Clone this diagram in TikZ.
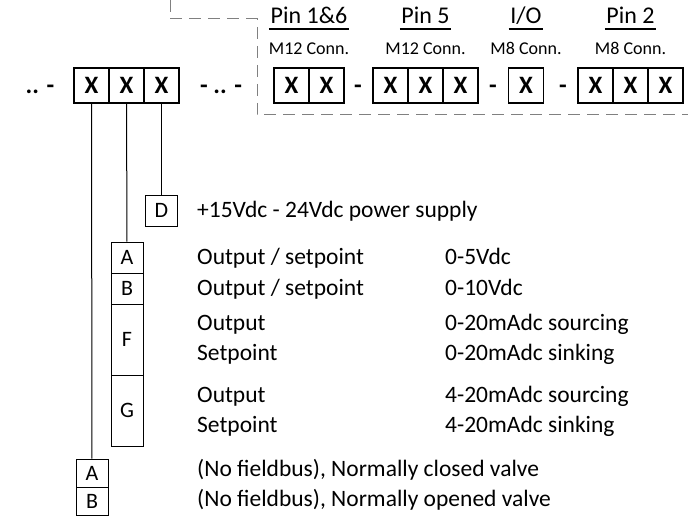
\documentclass[tikz,border=0pt]{standalone}
\usepackage{fontspec}
\setmainfont{Carlito}
\usetikzlibrary{positioning}
\begin{document}
\begin{tikzpicture}[x=1pt,y=-1pt,
  every node/.style={inner sep=0pt},
  cell/.style={draw, line width=1.2pt, minimum width=35pt, minimum height=35pt, font=\fontsize{25}{25}\selectfont\bfseries},
  sep/.style={anchor=base, font=\fontsize{25}{25}\selectfont\bfseries},
  code/.style={draw, line width=1pt, minimum width=32pt, font=\fontsize{22}{22}\selectfont},
  pin/.style={anchor=base, font=\fontsize{24}{24}\selectfont},
  conn/.style={anchor=base, font=\fontsize{18}{18}\selectfont},
  txt/.style={anchor=base west, font=\fontsize{23.5}{23.5}\selectfont},
  wire/.style={line width=1pt},
  uline/.style={line width=1.2pt}]
\useasboundingbox (0,0) rectangle (688,524);
% connector frame
\draw[dashed, dash pattern=on 12pt off 7pt, gray, line width=1pt] (170,0) -- (170,19) -- (257,19) -- (257,115) -- (688,115);
% main code
\node[sep] (dots1) at (40,94) {.. -};
\node[cell] (m1) at (91.5,85.5) {X};
\node[cell] (m2) at (126.5,85.5) {X};
\node[cell] (m3) at (161.5,85.5) {X};
\node[sep] (dots2) at (221,94) {- .. -};
% connector pins
\node[cell] (a1) at (291.5,85.5) {X};
\node[cell] (a2) at (326.5,85.5) {X};
\node[sep] (s1) at (358,94) {-};
\node[cell] (b1) at (390.5,85.5) {X};
\node[cell] (b2) at (425.5,85.5) {X};
\node[cell] (b3) at (460.5,85.5) {X};
\node[sep] (s2) at (493,94) {-};
\node[cell] (c1) at (526,85.5) {X};
\node[sep] (s3) at (563,94) {-};
\node[cell] (d1) at (595.5,85.5) {X};
\node[cell] (d2) at (630.5,85.5) {X};
\node[cell] (d3) at (665.5,85.5) {X};
% pin labels
\node[pin] (pa) at (309,23.5) {Pin 1\&6};
\node[pin] (pb) at (425.5,23.5) {Pin 5};
\node[pin] (pc) at (526,23.5) {I/O};
\node[pin] (pd) at (630.5,23.5) {Pin 2};
\foreach \p in {pa,pb,pc,pd}
  \draw[uline] ([shift={(-1.5pt,-5.5pt)}]\p.base west) -- ([shift={(1.5pt,-5.5pt)}]\p.base east);
\node[conn] (ca) at (309,55) {M12 Conn.};
\node[conn] (cb) at (425.5,55) {M12 Conn.};
\node[conn] (cc) at (526,55) {M8 Conn.};
\node[conn] (cd) at (630.5,55) {M8 Conn.};
% supply
\node[code, minimum height=31pt] (D) at (161.5,210.5) {D};
\draw[wire] (m3) -- (D);
\node[txt] (tD) at (197,217.5) {+15Vdc - 24Vdc power supply};
% signal
\node[code, minimum height=31pt] (A) at (127,257.5) {A};
\node[code, minimum height=31pt] (B) at (127,288.5) {B};
\node[code, minimum height=71pt] (F) at (127,339.5) {F};
\node[code, minimum height=71pt] (G) at (127,410.5) {G};
\draw[wire] (m2) -- (A);
\node[txt] (tA) at (197,264.5) {Output / setpoint};
\node[txt] (tB) at (197,295) {Output / setpoint};
\node[txt] (tF1) at (197,330.5) {Output};
\node[txt] (tF2) at (197,360.5) {Setpoint};
\node[txt] (tG1) at (197,402.5) {Output};
\node[txt] (tG2) at (197,432) {Setpoint};
\node[txt] (vA) at (445,264.5) {0-5Vdc};
\node[txt] (vB) at (445,295) {0-10Vdc};
\node[txt] (vF1) at (445,330.5) {0-20mAdc sourcing};
\node[txt] (vF2) at (445,360.5) {0-20mAdc sinking};
\node[txt] (vG1) at (445,402.5) {4-20mAdc sourcing};
\node[txt] (vG2) at (445,432) {4-20mAdc sinking};
% valve
\node[code, minimum height=28pt] (vlA) at (92,473) {A};
\node[code, minimum height=28pt] (vlB) at (92,501) {B};
\draw[wire] (m1) -- (vlA);
\node[txt] (tvA) at (197,476) {(No fieldbus), Normally closed valve};
\node[txt] (tvB) at (197,506) {(No fieldbus), Normally opened valve};
\end{tikzpicture}
\end{document}
